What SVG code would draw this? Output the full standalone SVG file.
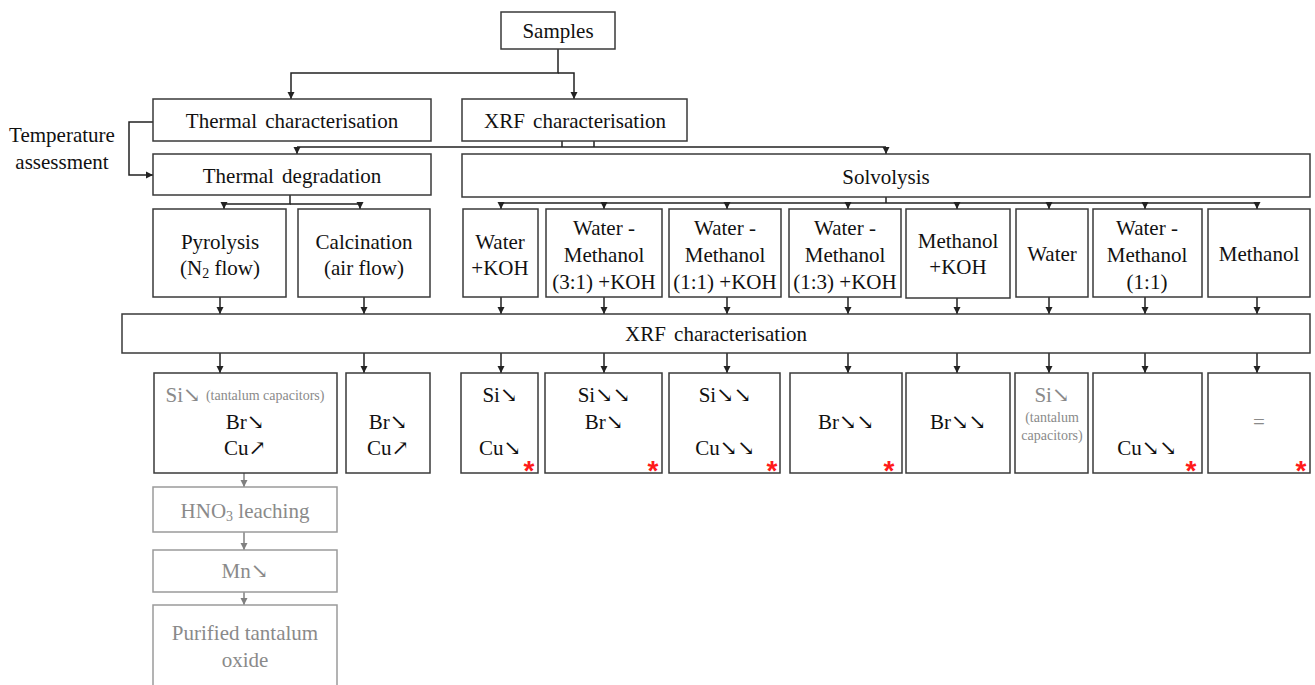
<svg xmlns="http://www.w3.org/2000/svg" width="1315" height="685" viewBox="0 0 1315 685">
<style>
.b{fill:#fff;stroke:#3a3a3a;stroke-width:1.5}
.g{fill:#fff;stroke:#9a9a9a;stroke-width:1.5}
.t{font-size:21px;fill:#111;text-anchor:middle;dominant-baseline:central}
.tg{font-size:21px;fill:#8a8a8a;text-anchor:middle;dominant-baseline:central}
.sm{font-size:14px}
.c{fill:none;stroke:#222;stroke-width:1.5}
.cg{fill:none;stroke:#808080;stroke-width:1.5}
.a{marker-end:url(#ah)}
.ag{marker-end:url(#ahg)}
.st{font-size:28px;font-weight:bold;fill:#ff1a1a;text-anchor:middle}
</style>
<defs>
<marker id="ah" markerUnits="userSpaceOnUse" markerWidth="8" markerHeight="8" refX="7" refY="4" orient="auto"><path d="M0,0.5 L7,4 L0,7.5 z" fill="#222"/></marker>
<marker id="ahg" markerUnits="userSpaceOnUse" markerWidth="8" markerHeight="8" refX="7" refY="4" orient="auto"><path d="M0,0.5 L7,4 L0,7.5 z" fill="#808080"/></marker>
</defs>
<rect width="1315" height="685" fill="#fff"/>
<g id="connectors">
<path class="c a" d="M558,49 V73 H291 V99"/>
<path class="c a" d="M558,73 H574 V99"/>
<path class="c a" d="M153,122 H129 V175 H153"/>
<path class="c" d="M562,141 V147 M594,141 V147 M297,147 H886"/>
<path class="c a" d="M297,147 V154"/>
<path class="c a" d="M886,147 V154"/>
<path class="c a" d="M290,195 V204 H224 V209"/>
<path class="c a" d="M290,204 H360 V209"/>
<path class="c" d="M886,197 V203 M501,203 H1257"/>
<path class="c a" d="M501,202 V209"/><path class="c a" d="M604,202 V209"/><path class="c a" d="M727,202 V209"/><path class="c a" d="M848,202 V209"/><path class="c a" d="M957,202 V209"/><path class="c a" d="M1049,202 V209"/><path class="c a" d="M1145,202 V209"/><path class="c a" d="M1257,202 V209"/>
<path class="c a" d="M220,297 V314"/><path class="c a" d="M364,297 V314"/><path class="c a" d="M501,297 V314"/><path class="c a" d="M604,297 V314"/><path class="c a" d="M727,297 V314"/><path class="c a" d="M848,297 V314"/><path class="c a" d="M957,298 V314"/><path class="c a" d="M1049,297 V314"/><path class="c a" d="M1145,297 V314"/><path class="c a" d="M1257,297 V314"/>
<path class="c a" d="M220,353 V373"/><path class="c a" d="M364,353 V373"/><path class="c a" d="M501,353 V373"/><path class="c a" d="M604,353 V373"/><path class="c a" d="M727,353 V373"/><path class="c a" d="M848,353 V373"/><path class="c a" d="M957,353 V373"/><path class="c a" d="M1049,353 V373"/><path class="c a" d="M1145,353 V373"/><path class="c a" d="M1257,353 V373"/>
<path class="cg ag" d="M244,473 V487"/><path class="cg ag" d="M244,532 V550"/><path class="cg ag" d="M244,592 V605"/>
</g>
<g font-family="'Liberation Serif', 'DejaVu Serif', serif">
<g id="samples"><rect class="b" x="501" y="12" width="114" height="37"/><text class="t" x="558" y="31">Samples</text></g>
<g id="thermal-char"><rect class="b" x="153" y="99" width="278" height="42"/><text class="t" x="292" y="121" word-spacing="3">Thermal characterisation</text></g>
<g id="xrf-char-top"><rect class="b" x="462" y="99" width="225" height="42"/><text class="t" x="575" y="121" word-spacing="3">XRF characterisation</text></g>
<g id="temp-assess"><text class="t" x="62" y="135">Temperature</text><text class="t" x="62" y="162">assessment</text></g>
<g id="thermal-deg"><rect class="b" x="153" y="154" width="278" height="41"/><text class="t" x="292" y="176" word-spacing="3">Thermal degradation</text></g>
<g id="solvolysis"><rect class="b" x="462" y="154" width="848" height="43"/><text class="t" x="886" y="177">Solvolysis</text></g>
<g id="pyrolysis"><rect class="b" x="153" y="209" width="133" height="88"/><text class="t" x="220" y="242">Pyrolysis</text><text class="t" x="220" y="268">(N<tspan font-size="14" dy="5">2</tspan><tspan dy="-5"> flow)</tspan></text></g>
<g id="calcination"><rect class="b" x="298" y="209" width="132" height="88"/><text class="t" x="364" y="242">Calcination</text><text class="t" x="364" y="268">(air flow)</text></g>
<g id="s1"><rect class="b" x="463" y="209" width="75" height="88"/><text class="t" x="500" y="242">Water</text><text class="t" x="500" y="268">+KOH</text></g>
<g id="s2"><rect class="b" x="546" y="209" width="116" height="88"/><text class="t" x="604" y="228">Water -</text><text class="t" x="604" y="255">Methanol</text><text class="t" x="604" y="282">(3:1) +KOH</text></g>
<g id="s3"><rect class="b" x="669" y="209" width="112" height="88"/><text class="t" x="725" y="228">Water -</text><text class="t" x="725" y="255">Methanol</text><text class="t" x="725" y="282">(1:1) +KOH</text></g>
<g id="s4"><rect class="b" x="789" y="209" width="112" height="88"/><text class="t" x="845" y="228">Water -</text><text class="t" x="845" y="255">Methanol</text><text class="t" x="845" y="282">(1:3) +KOH</text></g>
<g id="s5"><rect class="b" x="906" y="209" width="104" height="89"/><text class="t" x="958" y="241">Methanol</text><text class="t" x="958" y="267">+KOH</text></g>
<g id="s6"><rect class="b" x="1016" y="209" width="72" height="88"/><text class="t" x="1052" y="254">Water</text></g>
<g id="s7"><rect class="b" x="1093" y="209" width="109" height="88"/><text class="t" x="1147" y="228">Water -</text><text class="t" x="1147" y="255">Methanol</text><text class="t" x="1147" y="282">(1:1)</text></g>
<g id="s8"><rect class="b" x="1208" y="209" width="102" height="88"/><text class="t" x="1259" y="254">Methanol</text></g>
<g id="xrf-char"><rect class="b" x="122" y="314" width="1188" height="39"/><text class="t" x="716" y="334" word-spacing="3">XRF characterisation</text></g>
<g id="r1"><rect class="b" x="154" y="373" width="183" height="100"/><text class="tg" x="245" y="395">Si↘ <tspan class="sm">(tantalum capacitors)</tspan></text><text class="t" x="245" y="422">Br↘</text><text class="t" x="245" y="448">Cu↗</text></g>
<g id="r2"><rect class="b" x="346" y="373" width="84" height="100"/><text class="t" x="388" y="422">Br↘</text><text class="t" x="388" y="448">Cu↗</text></g>
<g id="r3"><rect class="b" x="461" y="373" width="77" height="100"/><text class="t" x="500" y="395">Si↘</text><text class="t" x="500" y="448">Cu↘</text><text class="st" font-family="'Liberation Sans', sans-serif" x="529" y="480">*</text></g>
<g id="r4"><rect class="b" x="545" y="373" width="117" height="100"/><text class="t" x="604" y="395">Si↘↘</text><text class="t" x="604" y="422">Br↘</text><text class="st" font-family="'Liberation Sans', sans-serif" x="653" y="480">*</text></g>
<g id="r5"><rect class="b" x="669" y="373" width="111" height="100"/><text class="t" x="725" y="395">Si↘↘</text><text class="t" x="725" y="448">Cu↘↘</text><text class="st" font-family="'Liberation Sans', sans-serif" x="772" y="480">*</text></g>
<g id="r6"><rect class="b" x="790" y="373" width="112" height="100"/><text class="t" x="846" y="422">Br↘↘</text><text class="st" font-family="'Liberation Sans', sans-serif" x="889" y="480">*</text></g>
<g id="r7"><rect class="b" x="906" y="373" width="104" height="100"/><text class="t" x="958" y="422">Br↘↘</text></g>
<g id="r8"><rect class="b" x="1015" y="373" width="73" height="100"/><text class="tg" x="1052" y="395">Si↘</text><text class="tg sm" x="1052" y="417">(tantalum</text><text class="tg sm" x="1052" y="435">capacitors)</text></g>
<g id="r9"><rect class="b" x="1093" y="373" width="109" height="100"/><text class="t" x="1147" y="448">Cu↘↘</text><text class="st" font-family="'Liberation Sans', sans-serif" x="1191" y="480">*</text></g>
<g id="r10"><rect class="b" x="1208" y="373" width="102" height="100"/><text class="tg" x="1259" y="422">=</text><text class="st" font-family="'Liberation Sans', sans-serif" x="1301" y="480">*</text></g>
<g id="hno3"><rect class="g" x="153" y="487" width="184" height="45"/><text class="tg" x="245" y="511">HNO<tspan font-size="14" dy="5">3</tspan><tspan dy="-5"> leaching</tspan></text></g>
<g id="mn"><rect class="g" x="153" y="550" width="184" height="42"/><text class="tg" x="245" y="571">Mn↘</text></g>
<g id="purified"><rect class="g" x="153" y="605" width="184" height="90"/><text class="tg" x="245" y="633">Purified tantalum</text><text class="tg" x="245" y="660">oxide</text></g>
</g>
</svg>
